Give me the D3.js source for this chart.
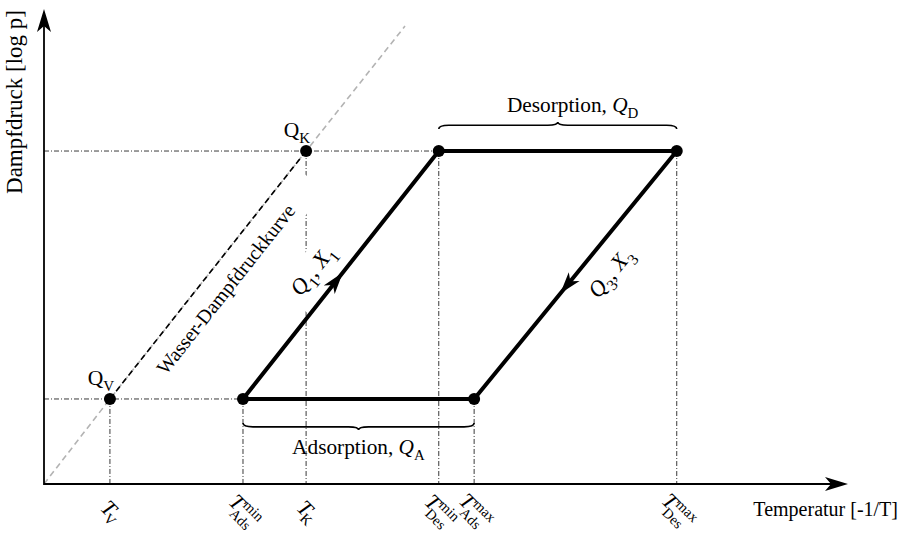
<!DOCTYPE html>
<html>
<head>
<meta charset="utf-8">
<script src="https://cdn.jsdelivr.net/npm/d3@7/dist/d3.min.js"></script>
<style>
  html, body { margin: 0; padding: 0; background: #fff; }
  svg { display: block; font-family: "Liberation Serif", "DejaVu Serif", serif; }
</style>
</head>
<body>
<div id="chart"></div>
<script>
// Adsorption cycle in the log p – (-1/T) diagram

// temperature marks on the abscissa (units of -1/T, arbitrary scale 0..10)
const tempValues = [0.82, 2.475, 3.26, 4.91, 5.35, 7.87];
const tickSub    = ["V", "Ads", "K", "Des", "Ads", "Des"];
const tickSup    = ["", "min", "", "min", "max", "max"];
// which pressure level each temperature mark drops from (0 = low, 1 = high)
const tickLevel  = [0, 0, 1, 1, 0, 1];

// pressure levels (log p, arbitrary scale 0..10): evaporator / condenser
const pressureValues = [1.79, 7.01];

// water vapour pressure curve
const vaporT = [0, 0.82, 3.26, 4.49];
const vaporP = [0, 1.79, 7.01, 9.64];

// cycle corners: start of heating, desorption start, desorption end, adsorption end
const cycleT = [2.475, 4.91, 7.87, 5.35];
const cycleP = [1.79, 7.01, 7.01, 1.79];

// evaporator / condenser state points
const stateT = [0.82, 3.26];
const stateP = [1.79, 7.01];
const stateLabels = [["Q", "V"], ["Q", "K"]];

const W = 904, H = 541;
const x = d3.scaleLinear().domain([0, 10]).range([44, 848]);
const y = d3.scaleLinear().domain([0, 10]).range([484, 9]);

const svg = d3.select("#chart").append("svg")
  .attr("width", W).attr("height", H);

svg.append("rect").attr("width", W).attr("height", H).attr("fill", "#fff");

const dashDot = "5,2,1,2";
const ink = "#000";

// ---------- guide lines (dash-dot) ----------
const guides = svg.append("g")
  .attr("fill", "none").attr("stroke", "#222")
  .attr("stroke-width", 0.9).attr("stroke-dasharray", dashDot);

// horizontal guides from the ordinate to the first point on each level
guides.append("line")
  .attr("x1", x(0)).attr("x2", x(cycleT[0]))
  .attr("y1", y(pressureValues[0])).attr("y2", y(pressureValues[0]));
guides.append("line")
  .attr("x1", x(0)).attr("x2", x(cycleT[1]))
  .attr("y1", y(pressureValues[1])).attr("y2", y(pressureValues[1]));

// vertical drop lines down to the temperature axis
tempValues.forEach((t, i) => {
  guides.append("line")
    .attr("x1", x(t)).attr("x2", x(t))
    .attr("y1", y(pressureValues[tickLevel[i]])).attr("y2", y(0));
});

// ---------- vapour pressure curve ----------
const vline = d3.line().x(d => x(d[0])).y(d => y(d[1]));
const vapor = vaporT.map((t, i) => [t, vaporP[i]]);
svg.append("path")
  .datum(vapor)
  .attr("d", vline)
  .attr("fill", "none").attr("stroke", "#b3b3b3")
  .attr("stroke-width", 1.6).attr("stroke-dasharray", "6,4");
svg.append("path")
  .datum(vapor.slice(1, 3))
  .attr("d", vline)
  .attr("fill", "none").attr("stroke", ink)
  .attr("stroke-width", 1.6).attr("stroke-dasharray", "6,4");

// ---------- rich text helper ----------
function richText(sel, parts, size) {
  const t = sel.append("text").attr("font-size", size).attr("fill", ink);
  let shift = 0;
  parts.forEach(p => {
    const target = p.sub ? size * 0.3 : (p.sup ? -size * 0.38 : 0);
    const ts = t.append("tspan").text(p.t).attr("dy", target - shift);
    if (p.sub || p.sup) ts.attr("font-size", size * 0.7);
    if (p.it) ts.attr("font-style", "italic");
    shift = target;
  });
  return t;
}

// centred, rotated label with optional white backing (pad: [left, top, right, bottom])
function label(parts, cx, cy, angle, size, pad) {
  const g = svg.append("g").attr("transform", `translate(${cx},${cy}) rotate(${angle})`);
  const bg = g.append("rect").attr("fill", "#fff");
  const t = richText(g, parts, size);
  const b = t.node().getBBox();
  t.attr("transform", `translate(${-b.x - b.width / 2},${-b.y - b.height / 2})`);
  if (pad) {
    bg.attr("x", -b.width / 2 - pad[0]).attr("y", -b.height / 2 - pad[1])
      .attr("width", b.width + pad[0] + pad[2]).attr("height", b.height + pad[1] + pad[3]);
  } else bg.remove();
  return g;
}

// position along a segment, shifted along it and perpendicular to it (pixels)
function along(p0, p1, frac, shiftAlong, shiftPerp) {
  const dx = p1[0] - p0[0], dy = p1[1] - p0[1];
  const L = Math.hypot(dx, dy);
  const ux = dx / L, uy = dy / L;
  const nx = -uy, ny = ux;
  return [p0[0] + dx * frac + ux * shiftAlong + nx * shiftPerp,
          p0[1] + dy * frac + uy * shiftAlong + ny * shiftPerp,
          Math.atan2(dy, dx) * 180 / Math.PI];
}

const px = i => [x(cycleT[i]), y(cycleP[i])];
const sv = i => [x(stateT[i]), y(stateP[i])];

// vapour curve label
{
  const [cx, cy, a] = along(sv(0), sv(1), 0.5, 0, 23);
  label([{ t: "Wasser-Dampfdruckkurve" }], cx, cy, a, 20, [4, 3, 34, 5]);
}
// Q1, X1 along the heating isostere
{
  const [cx, cy, a] = along(px(0), px(1), 0.5, -14, -23);
  label([{ t: "Q", it: true }, { t: "1", sub: true }, { t: ", " },
         { t: "X", it: true }, { t: "1", sub: true }], cx, cy, a, 22.5, [8, 4, 4, 6]);
}
// Q3, X3 along the cooling isostere
{
  const [cx, cy, a] = along(px(3), px(2), 0.5, 24, 28);
  label([{ t: "Q", it: true }, { t: "3", sub: true }, { t: ", " },
         { t: "X", it: true }, { t: "3", sub: true }], cx, cy, a, 22.5, [4, 4, 4, 4]);
}

// ---------- cycle ----------
const cyc = cycleT.map((t, i) => [t, cycleP[i]]);
svg.append("path")
  .datum(cyc)
  .attr("d", d3.line().x(d => x(d[0])).y(d => y(d[1])).curve(d3.curveLinearClosed))
  .attr("fill", "none").attr("stroke", ink)
  .attr("stroke-width", 4).attr("stroke-linejoin", "round");

// direction arrows on the isosteres
const headPath = "M0,0 L-22,-7 L-16,0 L-22,7 Z";
function head(p0, p1, frac) {
  const [hx, hy, a] = along(p0, p1, frac, 0, 0);
  svg.append("path").attr("d", headPath).attr("fill", ink)
    .attr("transform", `translate(${hx},${hy}) rotate(${a})`);
}
head(px(0), px(1), 0.51);
head(px(2), px(3), 0.575);

// state points
svg.append("g").selectAll("circle")
  .data(cyc.concat(stateT.map((t, i) => [t, stateP[i]])))
  .join("circle")
  .attr("cx", d => x(d[0])).attr("cy", d => y(d[1]))
  .attr("r", 6).attr("fill", ink);

// labels of evaporator / condenser points
stateLabels.forEach((l, i) => {
  label([{ t: l[0] }, { t: l[1], sub: true }],
        x(stateT[i]) - 9, y(stateP[i]) - 19, 0, 21.5);
});

// ---------- braces ----------
function brace(xa, xb, yEnd, h, dir) {
  // dir = -1: tip points up, +1: tip points down
  const q = 10, xm = (xa + xb) / 2;
  const yf = yEnd + dir * h * 0.55, yt = yEnd + dir * h;
  const d = `M${xa},${yEnd} Q${xa},${yf} ${xa + q},${yf} L${xm - q},${yf} ` +
            `Q${xm},${yf} ${xm},${yt} Q${xm},${yf} ${xm + q},${yf} ` +
            `L${xb - q},${yf} Q${xb},${yf} ${xb},${yEnd}`;
  svg.append("path").attr("d", d).attr("fill", "none")
    .attr("stroke", ink).attr("stroke-width", 1.6);
  return xm;
}
{
  const xm = brace(x(cycleT[1]), x(cycleT[2]), y(cycleP[1]) - 22, 7, -1);
  label([{ t: "Desorption, " }, { t: "Q", it: true }, { t: "D", sub: true }],
        xm + 15, y(cycleP[1]) - 44, 0, 21.3);
}
{
  const xm = brace(x(cycleT[0]), x(cycleT[3]), y(cycleP[0]) + 24, 7, 1);
  label([{ t: "Adsorption, " }, { t: "Q", it: true }, { t: "A", sub: true }],
        xm, y(cycleP[0]) + 50, 0, 21.3);
}

// ---------- axes ----------
const axisHead = "M0,0 L-23,-7 L-17,0 L-23,7 Z";
svg.append("line").attr("x1", x(0)).attr("x2", x(10) - 16)
  .attr("y1", y(0)).attr("y2", y(0))
  .attr("stroke", ink).attr("stroke-width", 1.8);
svg.append("path").attr("d", axisHead).attr("fill", ink)
  .attr("transform", `translate(${x(10)},${y(0)})`);
svg.append("line").attr("x1", x(0)).attr("x2", x(0))
  .attr("y1", y(0) + 1).attr("y2", y(10) + 16)
  .attr("stroke", ink).attr("stroke-width", 1.8);
svg.append("path").attr("d", axisHead).attr("fill", ink)
  .attr("transform", `translate(${x(0)},${y(10)}) rotate(-90)`);

svg.append("text")
  .attr("x", 898).attr("y", 516).attr("text-anchor", "end")
  .attr("font-size", 20).attr("fill", ink)
  .text("Temperatur [-1/T]");
svg.append("text")
  .attr("transform", `translate(22,${y(10) + 1}) rotate(-90)`)
  .attr("text-anchor", "end")
  .attr("font-size", 23).attr("fill", ink)
  .text("Dampfdruck [log p]");

// rotated temperature tick labels
tempValues.forEach((t, i) => {
  const g = svg.append("g").attr("transform", `translate(${x(t) + 1},512) rotate(45)`);
  const inner = g.append("g");
  const T = inner.append("text").attr("font-size", 22).attr("font-style", "italic")
    .attr("fill", ink).text("T");
  const tw = T.node().getComputedTextLength();
  if (tickSup[i]) {
    inner.append("text").attr("x", tw + 0.5).attr("y", -8)
      .attr("font-size", 14.5).attr("fill", ink).text(tickSup[i]);
    inner.append("text").attr("x", tw - 3.5).attr("y", 7.5)
      .attr("font-size", 14.5).attr("fill", ink).text(tickSub[i]);
  } else {
    inner.append("text").attr("x", tw - 2.5).attr("y", 5)
      .attr("font-size", 14.5).attr("fill", ink).text(tickSub[i]);
  }
  const b = inner.node().getBBox();
  inner.attr("transform", `translate(${-b.x - b.width / 2},${-b.y - b.height / 2})`);
});
</script>
</body>
</html>
